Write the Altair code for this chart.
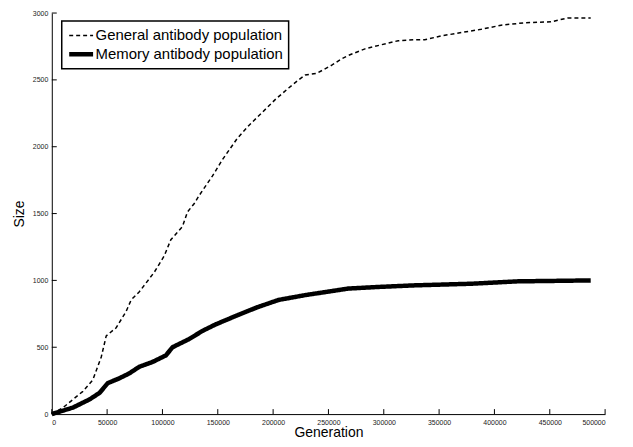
import altair as alt
import pandas as pd

gen_general = [0, 10200, 28100, 37100, 44700, 49200, 58200, 67200, 71700, 79100, 92600, 101600,
               107600, 118100, 122600, 128600, 133100, 145100, 154100, 167500, 178100, 190100,
               202100, 214000, 223000, 229100, 239500, 253000, 262000, 268000, 283000, 298000,
               313000, 328000, 337000, 352000, 370000, 388000, 406000, 427000, 451000, 466000, 487000]
size_general = [0, 49, 170, 256, 427, 585, 646, 768, 854, 915, 1061, 1183,
                1305, 1403, 1512, 1573, 1634, 1780, 1902, 2061, 2159, 2256,
                2354, 2439, 2500, 2537, 2549, 2610, 2658, 2683, 2732, 2763,
                2793, 2800, 2800, 2829, 2854, 2878, 2909, 2927, 2934, 2963, 2963]

gen_memory = [0, 19200, 34200, 43200, 50600, 61200, 70100, 79100, 91100, 103100, 109100, 124100,
              136100, 148100, 169100, 186000, 205000, 229000, 268000, 295000, 328000, 379000,
              421000, 460000, 487000]
size_memory = [0, 49, 110, 159, 232, 268, 305, 354, 390, 439, 500, 561,
               622, 671, 744, 800, 854, 890, 939, 951, 963, 975,
               993, 997, 1000]

series_names = ["General antibody population", "Memory antibody population"]
x_ticks = [0, 50000, 100000, 150000, 200000, 250000, 300000, 350000, 400000, 450000, 500000]
y_ticks = [0, 500, 1000, 1500, 2000, 2500, 3000]

W, H = 556, 403
FONT = "Liberation Sans"

df = pd.concat([
    pd.DataFrame({"Generation": gen_general, "Size": size_general, "series": series_names[0], "order": range(len(gen_general))}),
    pd.DataFrame({"Generation": gen_memory, "Size": size_memory, "series": series_names[1], "order": range(len(gen_memory))}),
])

xscale = alt.Scale(domain=[0, 500000], nice=False, zero=True)
yscale = alt.Scale(domain=[0, 3000], nice=False, zero=True)

lines = alt.Chart(df).mark_line(color="black", strokeCap="butt").encode(
    x=alt.X("Generation:Q", scale=xscale,
            axis=alt.Axis(title="Generation", values=x_ticks, format="d", tickSize=0,
                          labelFontSize=7, labelPadding=4, labelColor="#222",
                          titleFontSize=14, titleFontWeight="normal", titlePadding=1,
                          domainColor="black", domainWidth=1, grid=False, labelFont=FONT, titleFont=FONT)),
    y=alt.Y("Size:Q", scale=yscale,
            axis=alt.Axis(title="Size", values=y_ticks, format="d", tickSize=0,
                          labelFontSize=7, labelPadding=4, labelColor="#222",
                          titleFontSize=14, titleFontWeight="normal", titlePadding=6,
                          domainColor="black", domainWidth=1, grid=False, labelFont=FONT, titleFont=FONT)),
    strokeDash=alt.StrokeDash("series:N", scale=alt.Scale(domain=series_names, range=[[4, 3], [1, 0]]),
                              legend=alt.Legend(title=None)),
    strokeWidth=alt.StrokeWidth("series:N", scale=alt.Scale(domain=series_names, range=[1.5, 4.5]),
                                legend=alt.Legend(title=None)),
    order="order:Q",
)

xt = alt.Chart(pd.DataFrame({"Generation": x_ticks})).mark_rule(color="black", strokeWidth=1).encode(
    x=alt.X("Generation:Q", scale=xscale), y=alt.value(H), y2=alt.value(H - 5))
yt = alt.Chart(pd.DataFrame({"Size": y_ticks})).mark_rule(color="black", strokeWidth=1).encode(
    y=alt.Y("Size:Q", scale=yscale), x=alt.value(0), x2=alt.value(5))

chart = alt.layer(lines, xt, yt).properties(
    width=W, height=H,
    autosize=alt.AutoSizeParams(type="none"),
    padding={"left": 44, "top": 4, "right": 20, "bottom": 30},
).configure_view(stroke=None).configure_legend(
    orient="none", legendX=10, legendY=8,
    strokeColor="black", strokeWidth=1.5, fillColor="white",
    padding=5, symbolType="stroke", symbolSize=576, symbolStrokeColor="black",
    labelFontSize=15, labelFont=FONT, labelColor="black", labelOffset=0, rowPadding=0,
    clipHeight=19, labelLimit=400,
)

chart.save("out.html", embed_options={"renderer": "svg", "actions": False})
